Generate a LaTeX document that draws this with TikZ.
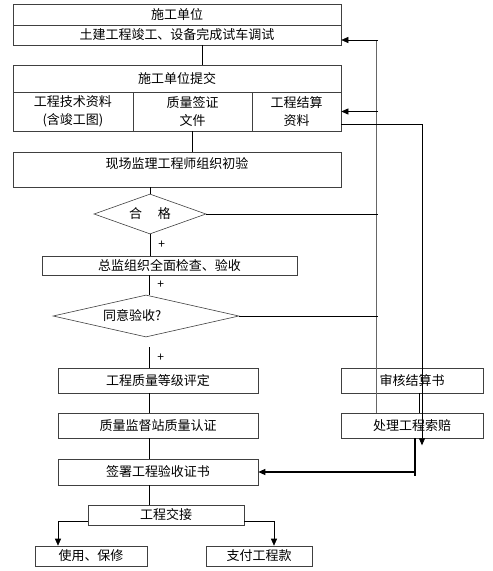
\documentclass[tikz,border=0pt]{standalone}
\usepackage{fontspec}
\setmainfont{Noto Sans CJK SC}
\usetikzlibrary{arrows.meta,positioning,shapes.geometric}

\begin{document}
\begin{tikzpicture}[x=1pt,y=-1pt,font=\fontsize{13pt}{18pt}\selectfont]
\tikzstyle{every node}+=[inner sep=0pt]
\tikzstyle{box}=[draw=black!75,line width=0.6pt,rectangle,align=center]
\tikzstyle{test}=[draw=black!75,line width=0.6pt,diamond]
\tikzstyle{link}=[black,line width=0.6pt]
\tikzstyle{arr}=[link,-{Triangle[length=7pt,width=6pt]}]
\tikzstyle{plus}=[font=\fontsize{12pt}{12pt}\selectfont]
\useasboundingbox (0,0) rectangle (493,571);
\coordinate (spine) at (149,0);
\node[box,minimum width=328,minimum height=21] (unit) at (177,14.5) {施工单位};
\node[box,minimum width=328,minimum height=20] (finish) at (177,35) {土建工程竣工、设备完成试车调试};
\node[box,minimum width=328,minimum height=27] (submit) at (177,78.5) {施工单位提交};
\node[box,minimum width=120,minimum height=39] (docs) at (73,111.5) {工程技术资料\\(含竣工图)};
\node[box,minimum width=119,minimum height=39] (visa) at (192.5,111.5) {质量签证\\文件};
\node[box,minimum width=89,minimum height=39] (settle) at (296.5,111.5) {工程结算\\资料};
\node[box,minimum width=328,minimum height=35,text height=8pt,text depth=11pt] (check) at (177,169.5) {现场监理工程师组织初验};
\node[test,shape aspect=2.8,minimum width=112,minimum height=40] (ok) at (150,214) {合\hspace{16pt}格};
\node[box,minimum width=255,minimum height=19] (insp) at (169.5,265.5) {总监组织全面检查、验收};
\node[test,shape aspect=4.4,minimum width=186,minimum height=42] (agree) at (146,316) {\makebox[86pt][l]{同意验收?}};
\node[box,minimum width=200,minimum height=25] (grade) at (158,380.5) {工程质量等级评定};
\node[box,minimum width=200,minimum height=25] (cert) at (158,425.5) {质量监督站质量认证};
\node[box,minimum width=200,minimum height=26] (sign) at (158,472) {签署工程验收证书};
\node[box,minimum width=156,minimum height=20] (hand) at (166,515) {工程交接};
\node[box,minimum width=112,minimum height=20] (use) at (91,556) {使用、保修};
\node[box,minimum width=106,minimum height=20] (pay) at (259,556) {支付工程款};
\node[box,minimum width=142,minimum height=25] (audit) at (412,380.5) {审核结算书};
\node[box,minimum width=142,minimum height=25] (claim) at (412,425.5) {处理工程索赔};
\draw[link] ([xshift=25pt]finish.south) -- ([xshift=25pt]submit.north);
\draw[link] (visa.south) -- (visa.south |- check.north);
\draw[link] (check.south -| ok.north) -- (ok.north);
\draw[link] (ok.south) -- (ok.south |- insp.north) node[plus,midway,right=8pt] {+};
\draw[link] (insp.south -| spine) -- (agree.north -| spine) node[plus,midway,right=8pt] {+};
\draw[link] ([yshift=-10pt]agree.south -| spine) -- (grade.north -| spine) node[plus,midway,right=8pt] {+};
\draw[link] (grade.south -| spine) -- (cert.north -| spine);
\draw[link] (cert.south -| spine) -- (sign.north -| spine);
\draw[link] (sign.south -| spine) -- (hand.north -| spine);
\draw[arr] ([yshift=4pt]hand.south west) -| ([xshift=-33pt]use.north);
\draw[arr] ([yshift=4pt]hand.south east) -| ([xshift=15pt]pay.north);
\coordinate (loop) at (376,40);
\draw[link,black!60] (loop) -- (loop |- claim.north);
\draw[arr] ([xshift=2pt]loop) -- (finish.east |- loop);
\draw[arr] ([xshift=2pt]loop |- settle.east) -- (settle.east);
\draw[link] (ok.east) -- ([xshift=2pt]loop |- ok.east);
\draw[link] (agree.east) -- ([xshift=2pt]loop |- agree.east);
\coordinate (bill) at (422,124);
\draw[arr] (settle.south east |- bill) -- (bill) -- ([yshift=-7pt]claim.south -| bill);
\draw[link] ([xshift=7pt]audit.south) -- ([xshift=7pt]claim.north);
\draw[link,line width=1.1pt] ([xshift=3pt]claim.south) -- ([xshift=3pt,yshift=-4pt]claim.south |- sign.east);
\draw[arr,line width=1.1pt] ([xshift=3pt]claim.south |- sign.east) -- (sign.east);
\end{tikzpicture}
\end{document}
